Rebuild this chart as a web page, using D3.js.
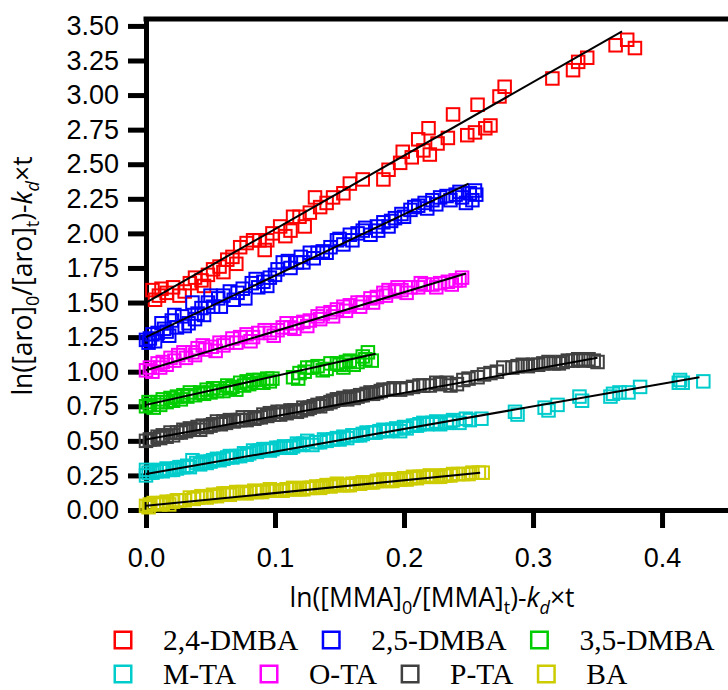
<!DOCTYPE html>
<html>
<head>
<meta charset="utf-8">
<script src="https://cdn.jsdelivr.net/npm/d3@7"></script>
<style>
  body { margin: 0; background: #fff; }
  svg { display: block; }
</style>
</head>
<body>
<div id="chart"></div>
<script>
// legend order
const names = ['2,4-DMBA', '2,5-DMBA', '3,5-DMBA', 'M-TA', 'O-TA', 'P-TA', 'BA'];
const colors = ['#ff0000', '#0000ff', '#00cc00', '#00cccc', '#ff00ff', '#404040', '#cccc00'];
const xTicks = [0, 0.1, 0.2, 0.3, 0.4];
const yTicks = [0, 0.25, 0.5, 0.75, 1, 1.25, 1.5, 1.75, 2, 2.25, 2.5, 2.75, 3, 3.25, 3.5];

// [x, y]
const pts24DMBA = [[0.005,1.59],[0.007,1.52],[0.016,1.57],[0.021,1.61],[0.026,1.55],[0.034,1.64],[0.038,1.68],[0.043,1.66],
  [0.048,1.70],[0.052,1.74],[0.057,1.76],[0.063,1.81],[0.067,1.83],[0.073,1.90],[0.078,1.93],[0.083,1.95],[0.088,1.95],
  [0.094,1.95],[0.104,2.05],[0.112,2.02],[0.114,2.12],[0.119,2.12],[0.127,2.15],[0.131,2.26],[0.135,2.19],[0.140,2.22],
  [0.145,2.26],[0.153,2.29],[0.158,2.36],[0.168,2.39],[0.184,2.39],[0.188,2.46],[0.197,2.51],[0.199,2.59],[0.206,2.55],
  [0.211,2.68],[0.215,2.60],[0.219,2.76],[0.220,2.57],[0.226,2.65],[0.234,2.69],[0.238,2.86],[0.249,2.71],[0.255,2.73],
  [0.257,2.93],[0.263,2.76],[0.267,2.78],[0.274,2.99],[0.278,3.06],[0.315,3.12],[0.331,3.18],[0.335,3.24],[0.342,3.27],
  [0.364,3.36],[0.373,3.40],[0.379,3.34],
  [0.010,1.55],[0.012,1.60],[0.030,1.58],[0.045,1.62],[0.060,1.72],[0.070,1.78],[0.092,1.88],[0.098,2.00],[0.108,1.98],
  [0.123,2.05]];
const pts25DMBA = [[0.000,1.23],[0.003,1.24],[0.009,1.28],[0.012,1.35],[0.016,1.29],[0.020,1.37],[0.024,1.32],[0.028,1.40],
  [0.033,1.35],[0.036,1.50],[0.040,1.42],[0.043,1.46],[0.048,1.50],[0.052,1.47],[0.056,1.53],[0.060,1.55],[0.065,1.58],
  [0.071,1.57],[0.077,1.53],[0.082,1.64],[0.087,1.61],[0.091,1.65],[0.096,1.68],[0.102,1.74],[0.106,1.79],[0.112,1.75],
  [0.117,1.79],[0.122,1.79],[0.127,1.86],[0.133,1.86],[0.137,1.87],[0.143,1.90],[0.148,1.95],[0.153,1.92],[0.158,1.99],
  [0.164,2.00],[0.168,2.02],[0.174,1.99],[0.179,2.05],[0.184,2.08],[0.188,2.05],[0.193,2.11],[0.198,2.14],[0.205,2.17],
  [0.211,2.20],[0.216,2.22],[0.222,2.24],[0.228,2.26],[0.233,2.27],[0.240,2.28],[0.245,2.26],[0.251,2.29],[0.256,2.28],
  [0.253,2.24],
  [0.002,1.21],[0.005,1.27],[0.007,1.22],[0.014,1.31],[0.018,1.26],[0.022,1.41],[0.030,1.33],[0.038,1.38],[0.045,1.41],
  [0.050,1.55],[0.058,1.47],[0.068,1.52],[0.075,1.60],[0.085,1.67],[0.094,1.62],[0.100,1.70],[0.110,1.80],[0.120,1.83],
  [0.130,1.82],[0.140,1.86],[0.150,1.96],[0.160,1.95],[0.170,2.04],[0.180,2.02],[0.190,2.09],[0.200,2.12],[0.208,2.19],
  [0.218,2.18],[0.225,2.21],[0.236,2.24],[0.243,2.30],[0.248,2.22],[0.255,2.31]];
const pts35DMBA = [[0.003,0.76],[0.009,0.78],[0.013,0.80],[0.019,0.81],[0.024,0.82],[0.029,0.83],[0.034,0.85],[0.042,0.85],
  [0.047,0.87],[0.052,0.88],[0.057,0.88],[0.063,0.90],[0.067,0.89],[0.073,0.92],[0.078,0.93],[0.083,0.94],[0.088,0.94],
  [0.094,0.95],[0.098,0.95],[0.114,0.96],[0.119,0.99],[0.125,1.03],[0.129,1.03],[0.137,1.01],[0.143,1.06],[0.148,1.06],
  [0.153,1.03],[0.158,1.08],[0.164,1.07],[0.168,1.11],[0.172,1.14],[0.175,1.08],
  [0.000,0.75],[0.002,0.78],[0.006,0.74],[0.011,0.76],[0.016,0.78],[0.021,0.79],[0.027,0.80],[0.032,0.82],[0.038,0.83],
  [0.045,0.84],[0.050,0.85],[0.055,0.86],[0.060,0.86],[0.065,0.88],[0.070,0.87],[0.076,0.90],[0.080,0.91],[0.086,0.92],
  [0.091,0.92],[0.096,0.93],[0.118,0.95],[0.123,1.00],[0.133,1.04],[0.140,1.02],[0.150,1.05],[0.155,1.07],[0.161,1.05],
  [0.170,1.09]];
const ptsMTA = [[0.000,0.29],[0.005,0.27],[0.011,0.29],[0.016,0.30],[0.021,0.29],[0.026,0.31],[0.032,0.32],[0.036,0.36],
  [0.042,0.33],[0.047,0.34],[0.052,0.36],[0.057,0.36],[0.063,0.38],[0.067,0.38],[0.073,0.39],[0.078,0.40],[0.083,0.43],
  [0.088,0.43],[0.094,0.44],[0.098,0.44],[0.104,0.45],[0.109,0.45],[0.114,0.46],[0.119,0.47],[0.125,0.50],[0.129,0.47],
  [0.135,0.49],[0.140,0.50],[0.145,0.51],[0.150,0.51],[0.156,0.52],[0.160,0.54],[0.166,0.54],[0.171,0.56],[0.176,0.56],
  [0.181,0.57],[0.187,0.57],[0.191,0.58],[0.197,0.57],[0.202,0.59],[0.207,0.61],[0.212,0.62],[0.218,0.62],[0.222,0.63],
  [0.228,0.62],[0.233,0.63],[0.238,0.65],[0.243,0.63],[0.251,0.65],[0.260,0.66],[0.286,0.71],[0.309,0.74],[0.319,0.76],
  [0.336,0.82],[0.360,0.82],[0.367,0.85],[0.374,0.85],[0.383,0.89],[0.414,0.94],[0.416,0.92],[0.432,0.93],
  [0.000,0.25],[0.002,0.27],[0.008,0.28],[0.013,0.28],[0.018,0.29],[0.024,0.30],[0.029,0.31],[0.034,0.31],[0.039,0.34],
  [0.044,0.35],[0.050,0.35],[0.055,0.37],[0.060,0.37],[0.065,0.39],[0.070,0.39],[0.076,0.41],[0.080,0.41],[0.086,0.42],
  [0.091,0.44],[0.096,0.43],[0.101,0.45],[0.107,0.46],[0.112,0.45],[0.117,0.48],[0.122,0.48],[0.132,0.49],[0.138,0.51],
  [0.148,0.52],[0.153,0.53],[0.163,0.54],[0.168,0.55],[0.178,0.56],[0.184,0.58],[0.194,0.59],[0.200,0.60],[0.210,0.61],
  [0.215,0.63],[0.225,0.64],[0.236,0.64],[0.248,0.66],[0.288,0.69],[0.312,0.72],[0.338,0.79],[0.362,0.84],[0.413,0.92]];
const ptsOTA = [[0.003,1.03],[0.009,1.06],[0.013,1.07],[0.019,1.10],[0.025,1.12],[0.029,1.14],[0.036,1.14],[0.040,1.17],
  [0.046,1.16],[0.051,1.18],[0.057,1.21],[0.063,1.21],[0.067,1.24],[0.073,1.25],[0.078,1.27],[0.083,1.25],[0.087,1.28],
  [0.096,1.28],[0.102,1.30],[0.106,1.32],[0.112,1.32],[0.117,1.35],[0.122,1.36],[0.127,1.37],[0.133,1.40],[0.137,1.42],
  [0.143,1.43],[0.148,1.45],[0.153,1.47],[0.158,1.48],[0.164,1.50],[0.168,1.50],[0.174,1.53],[0.179,1.54],[0.184,1.57],
  [0.188,1.59],[0.193,1.58],[0.198,1.59],[0.205,1.61],[0.211,1.61],[0.216,1.63],[0.222,1.63],[0.228,1.64],[0.234,1.65],
  [0.240,1.66],[0.243,1.66],
  [0.000,1.01],[0.005,1.00],[0.011,1.03],[0.016,1.05],[0.022,1.08],[0.031,1.10],[0.038,1.12],[0.044,1.19],[0.054,1.15],
  [0.060,1.19],[0.070,1.21],[0.081,1.22],[0.092,1.30],[0.099,1.26],[0.109,1.35],[0.115,1.31],[0.125,1.33],[0.135,1.38],
  [0.145,1.40],[0.155,1.44],[0.166,1.47],[0.176,1.50],[0.186,1.55],[0.195,1.61],[0.202,1.57],[0.213,1.64],[0.225,1.61],
  [0.237,1.63],[0.245,1.68]];
const ptsPTA = [[0.003,0.51],[0.009,0.53],[0.013,0.54],[0.019,0.56],[0.024,0.56],[0.029,0.58],[0.034,0.59],[0.040,0.60],
  [0.044,0.61],[0.050,0.61],[0.055,0.64],[0.060,0.64],[0.065,0.65],[0.071,0.65],[0.075,0.67],[0.081,0.67],[0.086,0.67],
  [0.091,0.69],[0.096,0.70],[0.102,0.71],[0.106,0.71],[0.112,0.72],[0.117,0.71],[0.122,0.74],[0.127,0.74],[0.133,0.76],
  [0.137,0.77],[0.143,0.78],[0.148,0.80],[0.153,0.81],[0.158,0.82],[0.164,0.82],[0.168,0.83],[0.174,0.85],[0.179,0.85],
  [0.184,0.87],[0.189,0.87],[0.197,0.87],[0.207,0.89],[0.215,0.90],[0.220,0.90],[0.228,0.91],[0.236,0.90],[0.241,0.91],
  [0.246,0.94],[0.257,0.96],[0.267,0.99],[0.277,1.03],[0.284,1.03],[0.292,1.05],[0.300,1.05],[0.308,1.06],[0.316,1.06],
  [0.323,1.07],[0.331,1.08],[0.339,1.08],[0.347,1.08],[0.350,1.07],
  [0.000,0.50],[0.006,0.51],[0.011,0.52],[0.016,0.53],[0.021,0.54],[0.027,0.56],[0.031,0.57],[0.037,0.58],[0.042,0.58],
  [0.047,0.60],[0.052,0.62],[0.058,0.62],[0.062,0.63],[0.068,0.64],[0.073,0.65],[0.078,0.65],[0.084,0.66],[0.089,0.67],
  [0.094,0.68],[0.099,0.69],[0.104,0.69],[0.109,0.70],[0.115,0.72],[0.120,0.72],[0.125,0.73],[0.130,0.75],[0.135,0.75],
  [0.140,0.77],[0.145,0.79],[0.150,0.80],[0.156,0.80],[0.161,0.81],[0.166,0.83],[0.171,0.84],[0.176,0.84],[0.182,0.86],
  [0.192,0.88],[0.202,0.88],[0.212,0.90],[0.225,0.92],[0.233,0.92],[0.250,0.95],[0.262,0.98],[0.272,1.00],[0.288,1.04],
  [0.296,1.04],[0.304,1.05],[0.312,1.07],[0.320,1.06],[0.327,1.08],[0.335,1.09],[0.343,1.09]];
const ptsBA = [[0.003,0.04],[0.009,0.05],[0.013,0.05],[0.021,0.06],[0.026,0.07],[0.034,0.09],[0.040,0.09],[0.047,0.09],
  [0.052,0.11],[0.057,0.11],[0.063,0.12],[0.067,0.12],[0.075,0.13],[0.081,0.13],[0.086,0.13],[0.094,0.14],[0.098,0.14],
  [0.104,0.14],[0.109,0.15],[0.114,0.16],[0.119,0.15],[0.125,0.16],[0.129,0.16],[0.135,0.16],[0.140,0.18],[0.145,0.18],
  [0.150,0.18],[0.156,0.18],[0.160,0.19],[0.166,0.19],[0.171,0.20],[0.176,0.20],[0.181,0.21],[0.187,0.21],[0.191,0.21],
  [0.197,0.22],[0.202,0.22],[0.207,0.24],[0.212,0.24],[0.218,0.24],[0.222,0.24],[0.228,0.24],[0.233,0.25],[0.238,0.26],
  [0.246,0.26],[0.253,0.27],[0.261,0.27],
  [0.000,0.03],[0.002,0.02],[0.006,0.05],[0.011,0.04],[0.016,0.06],[0.018,0.04],[0.024,0.07],[0.030,0.07],[0.037,0.08],
  [0.043,0.10],[0.050,0.10],[0.055,0.10],[0.060,0.12],[0.065,0.11],[0.070,0.13],[0.078,0.12],[0.084,0.14],[0.090,0.13],
  [0.096,0.15],[0.101,0.14],[0.106,0.14],[0.111,0.15],[0.116,0.15],[0.122,0.15],[0.127,0.16],[0.132,0.17],[0.137,0.17],
  [0.143,0.17],[0.148,0.19],[0.153,0.18],[0.158,0.18],[0.163,0.19],[0.168,0.20],[0.174,0.20],[0.179,0.21],[0.184,0.22],
  [0.189,0.22],[0.194,0.22],[0.200,0.23],[0.205,0.23],[0.210,0.23],[0.215,0.24],[0.220,0.25],[0.225,0.24],[0.231,0.25],
  [0.236,0.25],[0.242,0.26],[0.250,0.26],[0.258,0.27]];

// linear fits, start and end points as drawn
const fitLines = [
  [[0, 1.50], [0.369, 3.46]],
  [[0, 1.25], [0.250, 2.36]],
  [[0, 0.76], [0.178, 1.13]],
  [[0, 0.26], [0.429, 0.96]],
  [[0, 1.01], [0.248, 1.71]],
  [[0, 0.51], [0.350, 1.10]],
  [[0, 0.03], [0.259, 0.27]]
];

const allPoints = [pts24DMBA, pts25DMBA, pts35DMBA, ptsMTA, ptsOTA, ptsPTA, ptsBA];
const legendRows = [[0, 1, 2], [3, 4, 5, 6]];

let width = 728;
let height = 690;

let svg = d3.select('#chart').append('svg')
  .attr('width', width)
  .attr('height', height);

let x = d3.scaleLinear().domain([0, 0.455]).range([146, 733]);
let y = d3.scaleLinear().domain([0, 3.55]).range([510, 19]);

const tickFont = '"Liberation Sans", Arial, sans-serif';
const titleFont = '"Open Sans", "Noto Sans", sans-serif';

// axes
let xAxis = svg.append('g')
  .attr('transform', `translate(0, ${y(0)})`)
  .call(d3.axisBottom(x).tickValues(xTicks).tickFormat(d3.format('.1f'))
    .tickSize(18).tickSizeOuter(0).tickPadding(20));
let yAxis = svg.append('g')
  .attr('transform', `translate(${x(0)}, 0)`)
  .call(d3.axisLeft(y).tickValues(yTicks).tickFormat(d3.format('.2f'))
    .tickSize(18).tickSizeOuter(0).tickPadding(9));

[xAxis, yAxis].forEach(g => {
  g.select('.domain').attr('stroke', '#000').attr('stroke-width', 5).attr('stroke-linecap', 'square');
  g.selectAll('.tick line').attr('stroke', '#000').attr('stroke-width', 5);
  g.selectAll('.tick text')
    .attr('fill', '#000')
    .style('font-family', tickFont)
    .style('font-size', '27px');
});

// top frame
svg.append('line')
  .attr('x1', x(0)).attr('x2', x.range()[1])
  .attr('y1', y.range()[1]).attr('y2', y.range()[1])
  .attr('stroke', '#000').attr('stroke-width', 5).attr('stroke-linecap', 'square');

// markers
let markerSize = 12.5;
allPoints.forEach((pts, i) => {
  svg.append('g').selectAll('rect')
    .data(pts)
    .enter()
    .append('rect')
    .attr('x', d => x(d[0]) - markerSize / 2)
    .attr('y', d => y(d[1]) - markerSize / 2)
    .attr('width', markerSize)
    .attr('height', markerSize)
    .attr('fill', 'none')
    .attr('stroke', colors[i])
    .attr('stroke-width', 2);
});

// fit lines on top
let line = d3.line().x(d => x(d[0])).y(d => y(d[1]));
svg.append('g').selectAll('path')
  .data(fitLines)
  .enter()
  .append('path')
  .attr('d', line)
  .attr('fill', 'none')
  .attr('stroke', '#000')
  .attr('stroke-width', 2);

// titles with sub/italic parts
function writeParts(text, parts) {
  let shift = 0;
  parts.forEach(p => {
    let want = p.sub ? 7 : 0;
    let t = text.append('tspan').text(p.t).attr('dy', want - shift);
    shift = want;
    if (p.sub) t.style('font-size', '18px');
    if (p.it) t.style('font-style', 'italic');
  });
}

let xTitle = svg.append('text')
  .attr('x', 432)
  .attr('y', 607)
  .attr('text-anchor', 'middle')
  .style('font-family', titleFont)
  .style('font-size', '26.5px');
writeParts(xTitle, [
  {t: 'ln([MMA]'}, {t: '0', sub: true}, {t: '/[MMA]'}, {t: 't', sub: true},
  {t: ')-'}, {t: 'k', it: true}, {t: 'd', sub: true, it: true}, {t: '\u00d7t'}
]);

let yTitle = svg.append('text')
  .attr('transform', 'translate(32, 276) rotate(-90)')
  .attr('text-anchor', 'middle')
  .style('font-family', titleFont)
  .style('font-size', '26.5px');
writeParts(yTitle, [
  {t: 'ln([aro]'}, {t: '0', sub: true}, {t: '/[aro]'}, {t: 't', sub: true},
  {t: ')-'}, {t: 'k', it: true}, {t: 'd', sub: true, it: true}, {t: '\u00d7t'}
]);

// legend, two rows, items flow left to right
let legend = svg.append('g');
let rowY = [640, 674];
let boxSize = 16.5;
legendRows.forEach((row, r) => {
  let cx = 123;
  row.forEach(i => {
    legend.append('rect')
      .attr('x', cx - boxSize / 2)
      .attr('y', rowY[r] - boxSize / 2)
      .attr('width', boxSize)
      .attr('height', boxSize)
      .attr('fill', 'none')
      .attr('stroke', colors[i])
      .attr('stroke-width', 2.5);
    let t = legend.append('text')
      .attr('x', cx + 40)
      .attr('y', rowY[r] + 10)
      .style('font-family', '"Liberation Serif", "Times New Roman", serif')
      .style('font-size', '29.5px')
      .text(names[i]);
    cx = cx + 40 + t.node().getComputedTextLength() + 33;
  });
});
</script>
</body>
</html>
